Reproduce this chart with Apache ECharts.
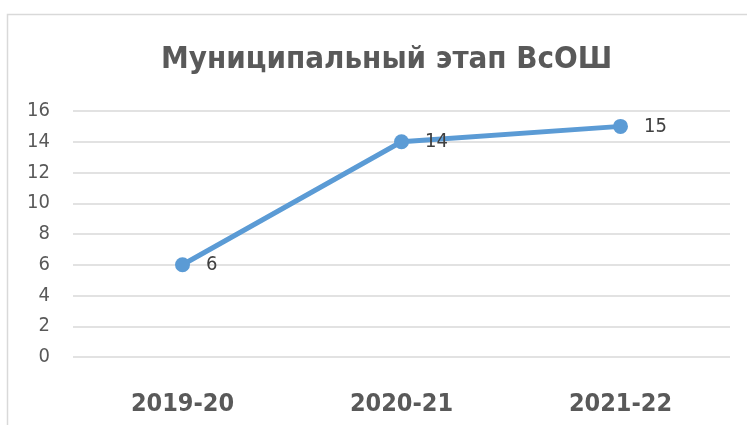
<!DOCTYPE html>
<html><head><meta charset="utf-8">
<script src="https://cdn.jsdelivr.net/npm/echarts@6/dist/echarts.min.js"></script>
<style>html,body{margin:0;padding:0;background:#fff}#c{width:747px;height:425px}</style>
</head><body><div id="c"></div>
<script>
const titleText = 'Муниципальный этап ВсОШ';
const categories = ['2019-20', '2020-21', '2021-22'];
const values = [6, 14, 15];
const FONT = '"Liberation Sans Narrow", "DejaVu Sans Condensed", sans-serif';
const chart = echarts.init(document.getElementById('c'), null, {renderer: 'canvas'});
chart.setOption({
  animation: false,
  backgroundColor: '#fff',
  graphic: [{type: 'rect', shape: {x: 7.5, y: 14.5, width: 800, height: 500}, style: {fill: 'none', stroke: '#d9d9d9', lineWidth: 1.5}}],
  title: {text: titleText, left: 156, top: 39, textStyle: {fontFamily: FONT, fontSize: 31, fontWeight: 'bold', color: '#595959'}},
  grid: {left: 73, right: 17, top: 111, bottom: 68},
  xAxis: {type: 'category', data: categories, boundaryGap: true,
    axisLine: {show: false}, axisTick: {show: false},
    axisLabel: {margin: 35, fontFamily: FONT, fontSize: 25, fontWeight: 'bold', color: '#595959'}},
  yAxis: {type: 'value', min: 0, max: 16, interval: 2,
    axisLine: {show: false}, axisTick: {show: false},
    splitLine: {lineStyle: {color: '#d9d9d9', width: 1.5}},
    axisLabel: {margin: 23, fontFamily: FONT, fontSize: 20, color: '#595959'}},
  series: [{type: 'line', data: values, symbol: 'circle', symbolSize: 15,
    lineStyle: {color: '#5B9BD5', width: 5}, itemStyle: {color: '#5B9BD5'},
    label: {show: true, position: 'right', distance: 16, fontFamily: FONT, fontSize: 20, color: '#404040'}}]
});
</script></body></html>
